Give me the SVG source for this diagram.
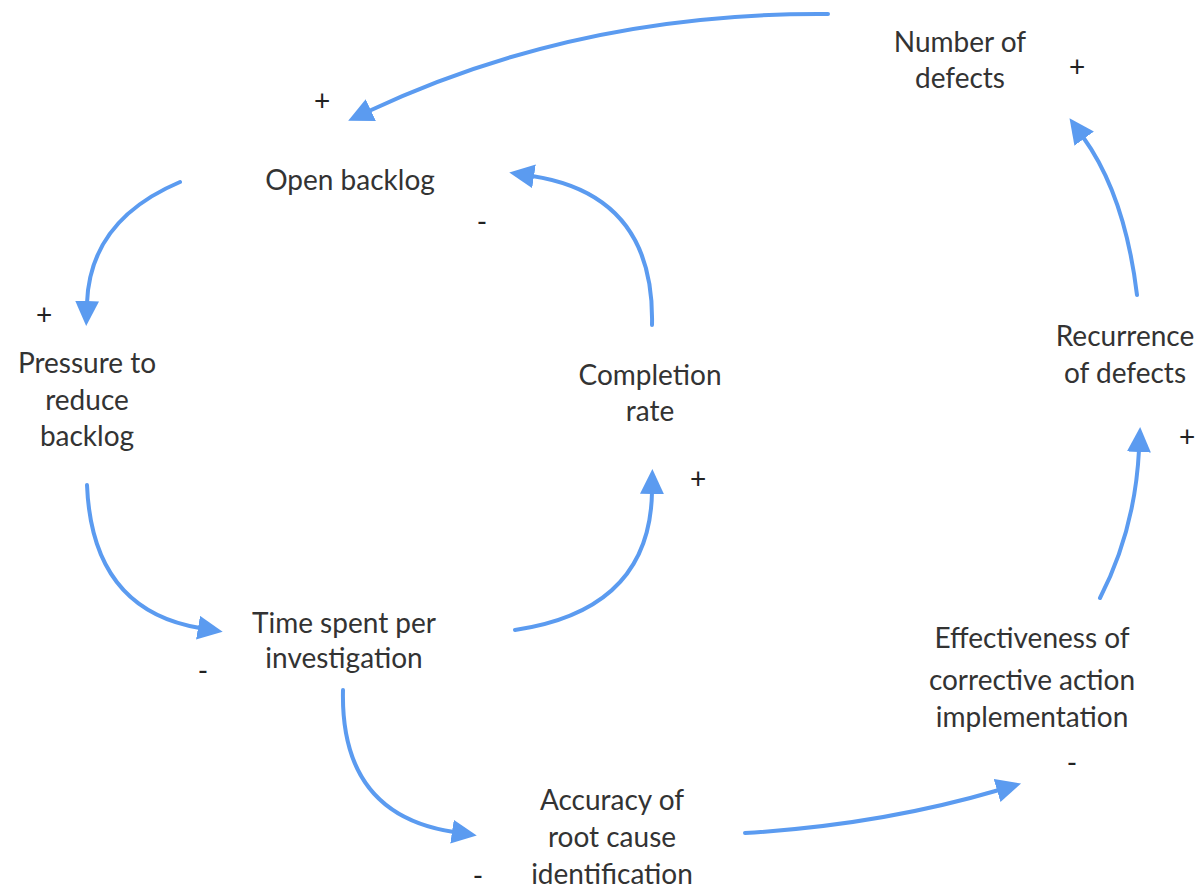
<svg xmlns="http://www.w3.org/2000/svg" width="1204" height="892" viewBox="0 0 1204 892">
  <style>
    .lbl { font-family: Lato, "Open Sans", "Liberation Sans", sans-serif; font-size: 28px; fill: #333; text-anchor: middle; }
    .sign { font-family: Lato, "Liberation Sans", sans-serif; font-size: 28px; fill: #222; text-anchor: middle; }
    .link { fill: none; stroke: #5b9bf0; stroke-width: 4; stroke-linecap: round; marker-end: url(#head); }
  </style>
  <defs>
    <marker id="head" markerUnits="userSpaceOnUse" markerWidth="28" markerHeight="26" refX="2" refY="12" orient="auto">
      <path d="M0,0 L25,12 L0,24 Z" fill="#5b9bf0"/>
    </marker>
  </defs>
  <rect width="1204" height="892" fill="#fff"/>

  <g id="connectors">
    <path class="link" d="M828,14 Q580,12 369,111"/>
    <path class="link" d="M180,182 Q90,220 87,303"/>
    <path class="link" d="M87,485 Q92,610 200,628"/>
    <path class="link" d="M515,630 Q650,610 652,492"/>
    <path class="link" d="M652,325 Q655,195 532,176"/>
    <path class="link" d="M343,690 Q340,815 454,832"/>
    <path class="link" d="M745,833 Q880,825 999,790"/>
    <path class="link" d="M1100,598 Q1135,530 1139,450"/>
    <path class="link" d="M1137,295 Q1125,195 1083,137"/>
  </g>

  <g id="number-of-defects">
    <text class="lbl" x="960" y="52">Number of</text>
    <text class="lbl" x="960" y="88">defects</text>
    <text class="sign" x="1077" y="77">+</text>
  </g>
  <g id="open-backlog">
    <text class="lbl" x="350" y="190">Open backlog</text>
    <text class="sign" x="322" y="111">+</text>
    <text class="sign" x="482" y="232">-</text>
  </g>
  <g id="pressure">
    <text class="lbl" x="87" y="373">Pressure to</text>
    <text class="lbl" x="87" y="410">reduce</text>
    <text class="lbl" x="87" y="446">backlog</text>
    <text class="sign" x="44" y="325">+</text>
  </g>
  <g id="completion-rate">
    <text class="lbl" x="650" y="385">Completion</text>
    <text class="lbl" x="650" y="421">rate</text>
    <text class="sign" x="698" y="489">+</text>
  </g>
  <g id="recurrence">
    <text class="lbl" x="1125" y="346">Recurrence</text>
    <text class="lbl" x="1125" y="383">of defects</text>
    <text class="sign" x="1187" y="447">+</text>
  </g>
  <g id="time-spent">
    <text class="lbl" x="344" y="633">Time spent per</text>
    <text class="lbl" x="344" y="668">investigation</text>
    <text class="sign" x="203" y="681">-</text>
  </g>
  <g id="effectiveness">
    <text class="lbl" x="1032" y="648">Effectiveness of</text>
    <text class="lbl" x="1032" y="690">corrective action</text>
    <text class="lbl" x="1032" y="727">implementation</text>
    <text class="sign" x="1072" y="773">-</text>
  </g>
  <g id="accuracy">
    <text class="lbl" x="612" y="810">Accuracy of</text>
    <text class="lbl" x="612" y="847">root cause</text>
    <text class="lbl" x="612" y="884">identification</text>
    <text class="sign" x="478" y="886">-</text>
  </g>
</svg>
